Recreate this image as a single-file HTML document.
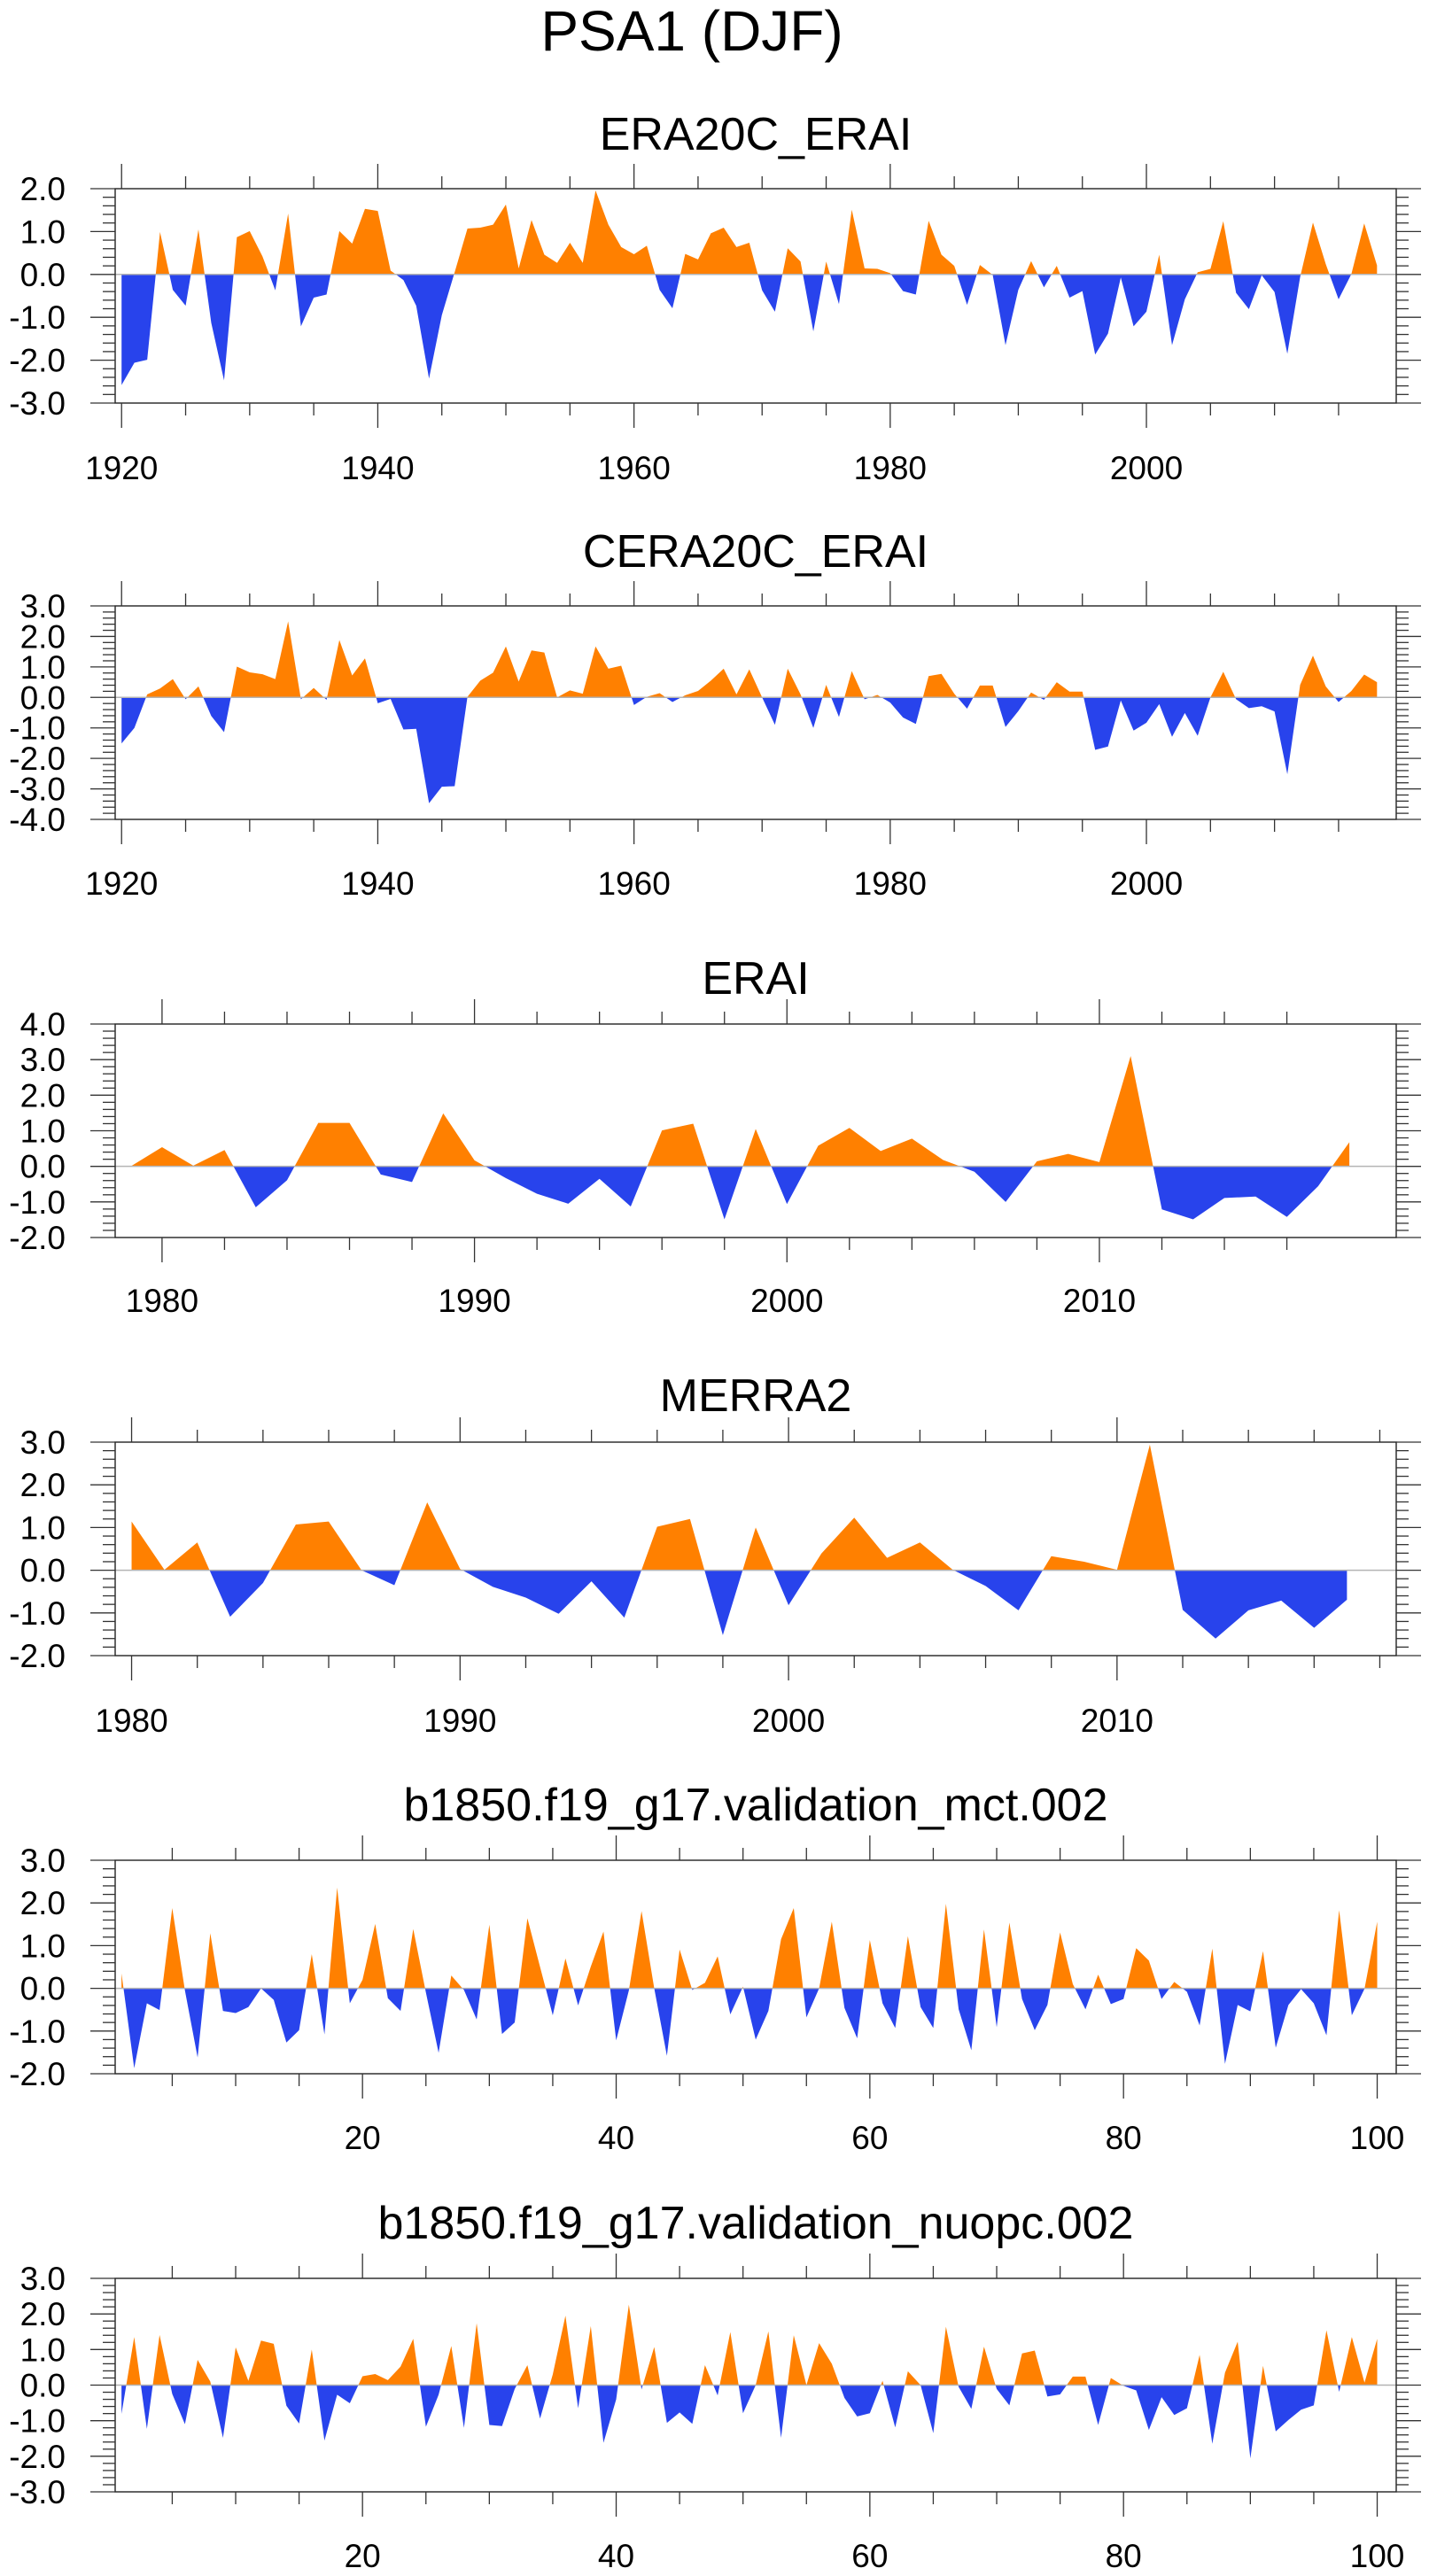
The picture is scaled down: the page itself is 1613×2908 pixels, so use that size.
<!DOCTYPE html>
<html><head><meta charset="utf-8"><title>PSA1 (DJF)</title>
<style>
html,body{margin:0;padding:0;background:#fff;}
svg{display:block;font-family:"Liberation Sans",Arial,sans-serif;}
</style></head>
<body>
<svg id="fig" width="1613" height="2908" viewBox="0 0 1613 2908" xmlns="http://www.w3.org/2000/svg">
<text x="781" y="57" font-size="64" text-anchor="middle">PSA1 (DJF)</text>
</svg>
<script>
const years1920 = [];
for (let y = 1920; y <= 2018; y++) years1920.push(y);
const era20cValues = [-2.58,-2.06,-1.99,0.99,-0.36,-0.73,1.05,-1.13,-2.47,0.87,1.01,0.42,-0.37,1.42,-1.21,-0.54,-0.47,1.01,0.72,1.53,1.48,0.09,-0.13,-0.73,-2.43,-0.95,0.05,1.07,1.09,1.16,1.63,0.14,1.27,0.46,0.27,0.74,0.27,1.96,1.16,0.64,0.47,0.67,-0.36,-0.79,0.48,0.35,0.96,1.09,0.64,0.74,-0.37,-0.87,0.61,0.3,-1.33,0.3,-0.69,1.51,0.14,0.13,0.03,-0.39,-0.47,1.25,0.46,0.2,-0.71,0.22,-0.01,-1.65,-0.36,0.31,-0.3,0.2,-0.54,-0.39,-1.87,-1.38,-0.07,-1.21,-0.87,0.46,-1.65,-0.58,0.05,0.13,1.24,-0.43,-0.81,-0.02,-0.41,-1.85,-0.06,1.21,0.24,-0.58,0.01,1.19,0.21];
const cera20cValues = [-1.51,-1.0,0.1,0.29,0.6,-0.06,0.36,-0.61,-1.14,1.01,0.82,0.76,0.6,2.49,-0.06,0.31,-0.08,1.88,0.72,1.28,-0.19,-0.05,-1.05,-1.03,-3.47,-2.93,-2.91,0.02,0.55,0.81,1.67,0.52,1.54,1.47,0.0,0.23,0.12,1.67,0.94,1.04,-0.25,0.02,0.14,-0.15,0.07,0.21,0.55,0.94,0.1,0.92,0.0,-0.9,0.94,0.1,-1.0,0.41,-0.64,0.86,-0.06,0.08,-0.17,-0.66,-0.87,0.7,0.77,0.12,-0.37,0.39,0.39,-0.97,-0.45,0.16,-0.08,0.5,0.19,0.19,-1.72,-1.61,-0.1,-1.09,-0.83,-0.22,-1.29,-0.51,-1.26,0.0,0.84,-0.06,-0.35,-0.29,-0.46,-2.52,0.41,1.37,0.36,-0.15,0.21,0.75,0.5];
const years1979 = [];
for (let y = 1979; y <= 2018; y++) years1979.push(y);
const eraiValues = [0.0,0.54,0.02,0.46,-1.15,-0.39,1.22,1.22,-0.23,-0.44,1.49,0.17,-0.33,-0.77,-1.05,-0.35,-1.13,1.01,1.2,-1.49,1.05,-1.06,0.58,1.08,0.43,0.78,0.18,-0.15,-1.0,0.14,0.35,0.12,3.1,-1.21,-1.49,-0.89,-0.85,-1.42,-0.56,0.68];
const years1980 = [];
for (let y = 1980; y <= 2017; y++) years1980.push(y);
const merra2Values = [1.14,0.01,0.65,-1.09,-0.3,1.07,1.14,0.0,-0.35,1.59,0.03,-0.39,-0.64,-1.02,-0.26,-1.11,1.02,1.2,-1.52,1.0,-0.82,0.39,1.23,0.29,0.65,0.01,-0.37,-0.94,0.33,0.2,0.01,2.94,-0.93,-1.6,-0.94,-0.71,-1.35,-0.69];
const modelYears = [];
for (let y = 1; y <= 100; y++) modelYears.push(y);
const mctValues = [0.35,-1.87,-0.35,-0.51,1.88,-0.05,-1.62,1.29,-0.53,-0.58,-0.44,0.0,-0.27,-1.27,-0.98,0.8,-1.08,2.36,-0.35,0.2,1.51,-0.23,-0.53,1.39,-0.1,-1.51,0.3,-0.04,-0.73,1.49,-1.07,-0.8,1.64,0.5,-0.63,0.7,-0.4,0.51,1.33,-1.22,-0.05,1.81,0.0,-1.58,0.91,-0.04,0.13,0.75,-0.61,0.04,-1.2,-0.53,1.15,1.88,-0.68,0.0,1.56,-0.46,-1.17,1.13,-0.35,-0.93,1.22,-0.44,-0.93,1.98,-0.49,-1.45,1.38,-0.91,1.54,-0.25,-0.98,-0.39,1.31,0.1,-0.49,0.32,-0.37,-0.25,0.94,0.65,-0.25,0.15,-0.08,-0.87,0.93,-1.77,-0.39,-0.54,0.87,-1.39,-0.39,-0.02,-0.35,-1.1,1.83,-0.63,-0.01,1.56];
const nuopcValues = [-0.81,1.35,-1.23,1.41,-0.25,-1.1,0.71,0.1,-1.48,1.06,0.12,1.25,1.16,-0.58,-1.08,1.0,-1.56,-0.27,-0.51,0.25,0.31,0.14,0.52,1.3,-1.17,-0.27,1.1,-1.2,1.74,-1.12,-1.15,-0.11,0.56,-0.94,0.3,1.95,-0.65,1.66,-1.62,-0.4,2.26,-0.12,1.07,-1.06,-0.77,-1.09,0.56,-0.29,1.49,-0.79,0.0,1.51,-1.48,1.4,0.0,1.18,0.6,-0.36,-0.88,-0.79,0.12,-1.19,0.39,0.0,-1.35,1.64,-0.05,-0.67,1.08,-0.11,-0.57,0.89,0.97,-0.32,-0.26,0.24,0.24,-1.12,0.2,-0.02,-0.15,-1.26,-0.34,-0.84,-0.65,0.85,-1.65,0.35,1.22,-2.06,0.54,-1.3,-0.98,-0.69,-0.57,1.54,-0.19,1.35,0.07,1.3];

const NS = "http://www.w3.org/2000/svg";
const svg = document.getElementById("fig");
const BOX_L = 130, BOX_R = 1576;

function mk(tag, attrs, parent) {
  const e = document.createElementNS(NS, tag);
  for (const k in attrs) e.setAttribute(k, attrs[k]);
  parent.appendChild(e);
  return e;
}
function fmt(v) { return (v < 0 ? "-" : "") + Math.abs(v).toFixed(1); }

let clipId = 0;
function drawPanel(p, xs, vals) {
  const g = mk("g", {}, svg);
  
  
  const sx = v => BOX_L + (v - p.xmin) / (p.xmax - p.xmin) * (BOX_R - BOX_L);
  const sy = v => p.top + (p.ymax - v) / (p.ymax - p.ymin) * (p.bottom - p.top);

  const t = mk("text", {x: 853, y: p.titleY, "font-size": 52, "text-anchor": "middle"}, g);
  t.textContent = p.title;
  
  

  // fill area
  const z = sy(0);
  let pts = xs.map((x, i) => sx(x).toFixed(2) + "," + sy(vals[i]).toFixed(2));
  pts.push(sx(xs[xs.length - 1]).toFixed(2) + "," + z.toFixed(2));
  pts.push(sx(xs[0]).toFixed(2) + "," + z.toFixed(2));
  const idA = "ca" + (clipId++), idB = "cb" + (clipId++);
  const defs = mk("defs", {}, g);
  const cA = mk("clipPath", {id: idA}, defs);
  mk("rect", {x: BOX_L, y: p.top, width: BOX_R - BOX_L, height: z - p.top}, cA);
  const cB = mk("clipPath", {id: idB}, defs);
  mk("rect", {x: BOX_L, y: z, width: BOX_R - BOX_L, height: p.bottom - z}, cB);
  const pos = mk("polygon", {points: pts.join(" "), fill: "#ff8000", "clip-path": "url(#" + idA + ")"}, g);
  
  
  const neg = mk("polygon", {points: pts.join(" "), fill: "#2843ec", "clip-path": "url(#" + idB + ")"}, g);
  
  

  const zl = mk("line", {x1: BOX_L, x2: BOX_R, y1: z, y2: z, stroke: "#b4b4b4", "stroke-width": 1.5}, g);
  
  

  const box = mk("rect", {x: BOX_L, y: p.top, width: BOX_R - BOX_L, height: p.bottom - p.top, fill: "none", stroke: "#222", "stroke-width": 1.4}, g);
  
  

  const tk = mk("g", {stroke: "#333", "stroke-width": 1.3}, g);
  
  
  // y ticks
  const n = Math.round((p.ymax - p.ymin) / 0.2);
  for (let i = 0; i <= n; i++) {
    const v = p.ymin + i * 0.2;
    const y = sy(v);
    const major = Math.abs(v - Math.round(v)) < 1e-6;
    const L = major ? 28 : 14;
    mk("line", {x1: BOX_L - L, x2: BOX_L, y1: y, y2: y}, tk);
    mk("line", {x1: BOX_R, x2: BOX_R + L, y1: y, y2: y}, tk);
    if (major) {
      const lb = mk("text", {x: 74, y: y + 13, "font-size": 37, "text-anchor": "end"}, g);
      lb.textContent = fmt(Math.round(v));
      
      
    }
  }
  // x ticks
  p.minor.forEach(v => {
    const x = sx(v);
    mk("line", {x1: x, x2: x, y1: p.top - 14, y2: p.top}, tk);
    mk("line", {x1: x, x2: x, y1: p.bottom, y2: p.bottom + 14}, tk);
  });
  p.major.forEach(v => {
    const x = sx(v);
    mk("line", {x1: x, x2: x, y1: p.top - 28, y2: p.top}, tk);
    mk("line", {x1: x, x2: x, y1: p.bottom, y2: p.bottom + 28}, tk);
    const lb = mk("text", {x: x, y: p.xLabelY + 13, "font-size": 37, "text-anchor": "middle"}, g);
    lb.textContent = String(v);
    
    
  });
}
function range(a, b, s, skip) { const r = []; for (let v = a; v <= b + 1e-9; v += s) if (!skip || v % skip !== 0) r.push(v); return r; }

drawPanel({name: "era20c-erai-panel", title: "ERA20C_ERAI", titleY: 169, top: 213, bottom: 455, ymin: -3, ymax: 2, xmin: 1919.5, xmax: 2019.5, major: [1920,1940,1960,1980,2000], minor: range(1925, 2015, 5, 20), xLabelY: 528}, years1920, era20cValues);
drawPanel({name: "cera20c-erai-panel", title: "CERA20C_ERAI", titleY: 640, top: 684, bottom: 925, ymin: -4, ymax: 3, xmin: 1919.5, xmax: 2019.5, major: [1920,1940,1960,1980,2000], minor: range(1925, 2015, 5, 20), xLabelY: 997}, years1920, cera20cValues);
drawPanel({name: "erai-panel", title: "ERAI", titleY: 1122, top: 1156, bottom: 1397, ymin: -2, ymax: 4, xmin: 1978.5, xmax: 2019.5, major: [1980,1990,2000,2010], minor: range(1982, 2016, 2, 10), xLabelY: 1468}, years1979, eraiValues);
drawPanel({name: "merra2-panel", title: "MERRA2", titleY: 1593, top: 1628, bottom: 1869, ymin: -2, ymax: 3, xmin: 1979.5, xmax: 2018.5, major: [1980,1990,2000,2010], minor: range(1982, 2018, 2, 10), xLabelY: 1942}, years1980, merra2Values);
drawPanel({name: "mct-panel", title: "b1850.f19_g17.validation_mct.002", titleY: 2055, top: 2100, bottom: 2341, ymin: -2, ymax: 3, xmin: 0.5, xmax: 101.5, major: [20,40,60,80,100], minor: range(5, 95, 5, 20), xLabelY: 2413}, modelYears, mctValues);
drawPanel({name: "nuopc-panel", title: "b1850.f19_g17.validation_nuopc.002", titleY: 2527, top: 2572, bottom: 2813, ymin: -3, ymax: 3, xmin: 0.5, xmax: 101.5, major: [20,40,60,80,100], minor: range(5, 95, 5, 20), xLabelY: 2885}, modelYears, nuopcValues);
</script>
</body></html>
